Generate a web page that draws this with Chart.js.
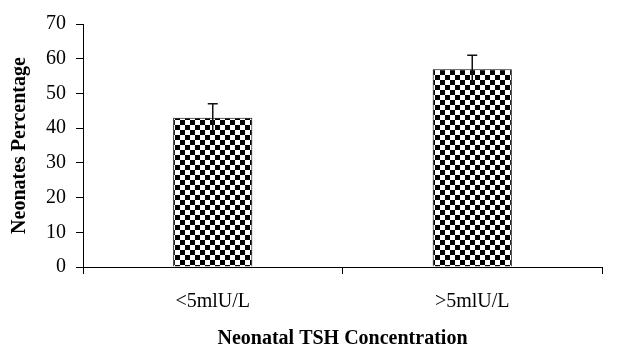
<!DOCTYPE html>
<html>
<head>
<meta charset="utf-8">
<script src="https://cdn.jsdelivr.net/npm/chart.js@4"></script>
<style>
  html, body { margin: 0; padding: 0; background: #fff; }
  #wrap { width: 638px; height: 349px; }
</style>
</head>
<body>
<div id="wrap"><canvas id="tshChart" width="638" height="349"></canvas></div>
<script>
// neonatal TSH bar chart with checker fill + error bars
const categories = ['<5mlU/L', '>5mlU/L'];
const percentages = [43, 57];
const errors = [4, 4];
const yTicks = [0, 10, 20, 30, 40, 50, 60, 70];

const FONT = "'Liberation Serif', 'Times New Roman', serif";

function checkerPattern(ctx) {
  // 5px black/white checkerboard
  const c = document.createElement('canvas');
  c.width = 10; c.height = 10;
  const g = c.getContext('2d');
  g.fillStyle = '#fff'; g.fillRect(0, 0, 10, 10);
  g.fillStyle = '#000';
  g.fillRect(0, 0, 5, 5);
  g.fillRect(5, 5, 5, 5);
  return ctx.createPattern(c, 'repeat');
}

const errorBars = {
  id: 'errorBars',
  afterDatasetsDraw(chart) {
    const { ctx, scales: { y } } = chart;
    const meta = chart.getDatasetMeta(0);
    ctx.save();
    ctx.strokeStyle = '#111';
    ctx.lineWidth = 1.5;
    meta.data.forEach((bar, i) => {
      const v = percentages[i], e = errors[i];
      const top = y.getPixelForValue(v + e);
      const bot = y.getPixelForValue(v - e);
      ctx.beginPath();
      ctx.moveTo(bar.x, bot); ctx.lineTo(bar.x, top);
      ctx.moveTo(bar.x - 5, top); ctx.lineTo(bar.x + 5, top);
      ctx.stroke();
    });
    ctx.restore();
  }
};

const ctx = document.getElementById('tshChart').getContext('2d');
new Chart(ctx, {
  type: 'bar',
  data: {
    labels: categories,
    datasets: [{
      data: percentages,
      backgroundColor: checkerPattern(ctx),
      borderColor: '#000',
      borderWidth: 1,
      barPercentage: 0.305,
      categoryPercentage: 1,
    }]
  },
  options: {
    responsive: false,
    animation: false,
    devicePixelRatio: 1,
    layout: { padding: { left: 0, right: 36, top: 24, bottom: 0 } },
    plugins: { legend: { display: false }, tooltip: { enabled: false } },
    scales: {
      x: {
        grid: { drawOnChartArea: false, drawTicks: true, tickLength: 7, color: '#000', offset: true },
        border: { display: true, color: '#000', width: 1 },
        ticks: { color: '#000', padding: 16, font: { family: FONT, size: 20 } },
        title: {
          display: true, text: 'Neonatal TSH Concentration', color: '#000',
          font: { family: FONT, size: 20, weight: 'bold', lineHeight: 1 },
          padding: { top: 0, bottom: 0 }
        },
        afterFit(scale) { scale.height = 82; }
      },
      y: {
        min: 0, max: 70,
        afterBuildTicks(scale) { scale.ticks = yTicks.map(v => ({ value: v })); },
        grid: { drawOnChartArea: false, drawTicks: true, tickLength: 7, color: '#000' },
        border: { display: true, color: '#000', width: 1 },
        ticks: { color: '#000', padding: 10, font: { family: FONT, size: 20 } },
        title: {
          display: true, text: 'Neonates Percentage', color: '#000',
          font: { family: FONT, size: 20, weight: 'bold', lineHeight: 1.2 },
          padding: { top: 8, bottom: 0 }
        },
        afterFit(scale) { scale.width = 83; }
      }
    }
  },
  plugins: [errorBars]
});
</script>
</body>
</html>
